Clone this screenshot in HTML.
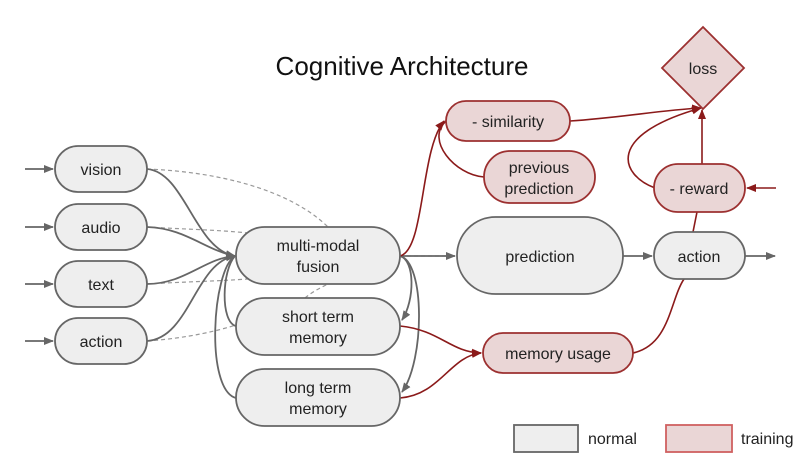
<!DOCTYPE html>
<html><head><meta charset="utf-8"><style>
html,body{margin:0;padding:0;background:#fff;}
svg{display:block;font-family:"Liberation Sans",Arial,sans-serif;}
</style></head><body>
<svg width="800" height="456" viewBox="0 0 800 456" xmlns="http://www.w3.org/2000/svg">
<defs>
<marker id="ag" markerWidth="10" markerHeight="8" refX="9" refY="4" orient="auto" markerUnits="userSpaceOnUse"><path d="M0,0 L10,4 L0,8 z" fill="#666"/></marker>
<marker id="ar" markerWidth="10" markerHeight="8" refX="9" refY="4" orient="auto" markerUnits="userSpaceOnUse"><path d="M0,0 L10,4 L0,8 z" fill="#8b1a1a"/></marker>
</defs>
<text x="402" y="75" font-size="26" text-anchor="middle" fill="#111">Cognitive Architecture</text>

<!-- dashed lines -->
<g stroke="#999" stroke-width="1.2" fill="none" stroke-dasharray="4,3">
<path d="M147,169 C220,172 290,190 328,227"/>
<path d="M147,227 C180,229 220,230 248,233"/>
<path d="M147,284 C180,282 220,281 248,279"/>
<path d="M147,341 C190,338 220,330 236,325"/>
<path d="M305,298 C312,292 320,288 328,284"/>
<path d="M400,256 L450,256"/>
</g>

<!-- grey solid lines -->
<g stroke="#666" stroke-width="1.8" fill="none">
<path d="M25,169 L53,169" marker-end="url(#ag)"/>
<path d="M25,227 L53,227" marker-end="url(#ag)"/>
<path d="M25,284 L53,284" marker-end="url(#ag)"/>
<path d="M25,341 L53,341" marker-end="url(#ag)"/>
<path d="M147,169 C185,172 195,250 235,256" marker-end="url(#ag)"/>
<path d="M147,227 C185,228 205,250 235,256" marker-end="url(#ag)"/>
<path d="M147,284 C185,284 205,258 235,256" marker-end="url(#ag)"/>
<path d="M147,341 C190,338 195,262 235,256" marker-end="url(#ag)"/>
<path d="M236,326 C220,322 222,270 235,256"/>
<path d="M236,398 C205,390 212,270 235,256"/>
<path d="M400,256 C415,260 415,300 402,320" marker-end="url(#ag)"/>
<path d="M400,256 C425,262 425,360 402,392" marker-end="url(#ag)"/>
<path d="M400,256 L455,256" marker-end="url(#ag)"/>
<path d="M623,256 L652,256" marker-end="url(#ag)"/>
<path d="M745,256 L775,256" marker-end="url(#ag)"/>
</g>

<!-- red lines -->
<g stroke="#8b1a1a" stroke-width="1.6" fill="none">
<path d="M400,256 C425,250 420,150 444,121" marker-end="url(#ar)"/>
<path d="M484,177 C455,175 425,140 446,121"/>
<path d="M570,121 C620,118 660,110 701,108" marker-end="url(#ar)"/>
<path d="M655,188 C620,175 605,135 701,108" marker-end="url(#ar)"/>
<path d="M702,164 L702,110" marker-end="url(#ar)"/>
<path d="M776,188 L747,188" marker-end="url(#ar)"/>
<path d="M400,326 C440,330 450,352 481,353" marker-end="url(#ar)"/>
<path d="M400,398 C440,395 450,356 481,353" marker-end="url(#ar)"/>
<path d="M633,353 C670,345 670,300 684,279"/>
<path d="M693,232 L697,212"/>
</g>

<!-- normal nodes -->
<g fill="#eeeeee" stroke="#666" stroke-width="1.8">
<rect x="55" y="146" width="92" height="46" rx="23"/>
<rect x="55" y="204" width="92" height="46" rx="23"/>
<rect x="55" y="261" width="92" height="46" rx="23"/>
<rect x="55" y="318" width="92" height="46" rx="23"/>
<rect x="236" y="227" width="164" height="57" rx="28.5"/>
<rect x="236" y="298" width="164" height="57" rx="28.5"/>
<rect x="236" y="369" width="164" height="57" rx="28.5"/>
<rect x="457" y="217" width="166" height="77" rx="38.5"/>
<rect x="654" y="232" width="91" height="47" rx="23.5"/>
<rect x="514" y="425" width="64" height="27"/>
</g>
<!-- training nodes -->
<g fill="#ead6d6" stroke="#9c3030" stroke-width="1.8">
<rect x="446" y="101" width="124" height="40" rx="20"/>
<rect x="484" y="151" width="111" height="52" rx="26"/>
<rect x="654" y="164" width="91" height="48" rx="24"/>
<rect x="483" y="333" width="150" height="40" rx="20"/>
<path d="M703,27 L744,68 L703,109 L662,68 z"/>
<rect x="666" y="425" width="66" height="27" stroke="#d06060"/>
</g>

<g font-size="16" fill="#222" text-anchor="middle">
<text x="101" y="175">vision</text>
<text x="101" y="233">audio</text>
<text x="101" y="290">text</text>
<text x="101" y="347">action</text>
<text x="318" y="251">multi-modal</text>
<text x="318" y="272">fusion</text>
<text x="318" y="322">short term</text>
<text x="318" y="343">memory</text>
<text x="318" y="393">long term</text>
<text x="318" y="414">memory</text>
<text x="540" y="262">prediction</text>
<text x="699" y="262">action</text>
<text x="508" y="127">- similarity</text>
<text x="539" y="173">previous</text>
<text x="539" y="194">prediction</text>
<text x="699" y="194">- reward</text>
<text x="558" y="359">memory usage</text>
<text x="703" y="74">loss</text>
<text x="588" y="444" text-anchor="start">normal</text>
<text x="741" y="444" text-anchor="start">training</text>
</g>
</svg>
</body></html>
